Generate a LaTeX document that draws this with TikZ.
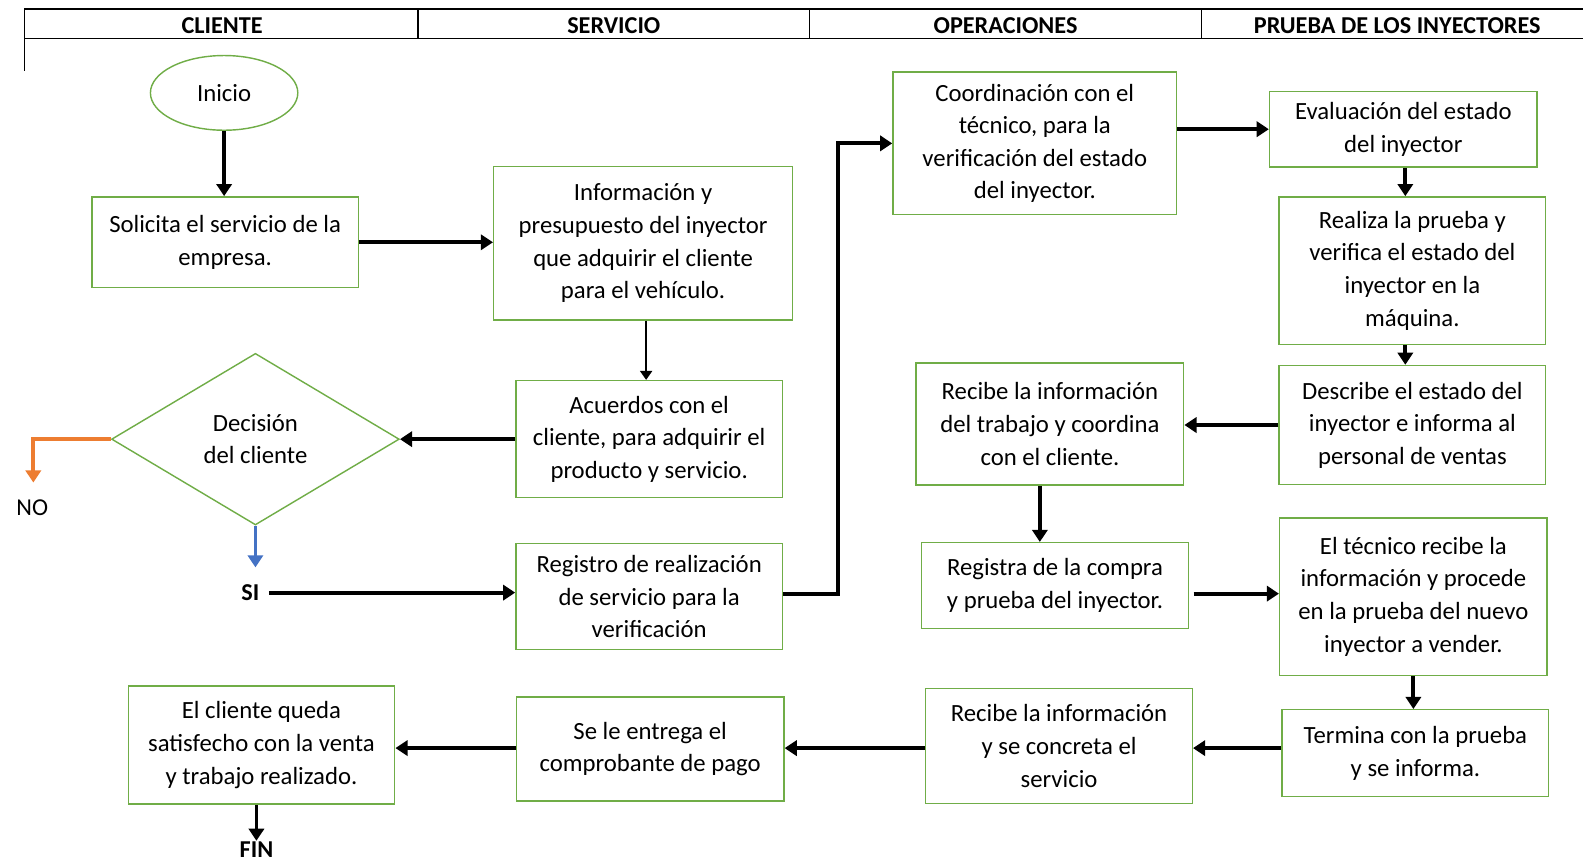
\documentclass[tikz,border=0pt]{standalone}
\usepackage{fontspec}
\setmainfont{Carlito}
\usetikzlibrary{arrows.meta,shapes.geometric}
\definecolor{verde}{RGB}{112,173,71}
\definecolor{naranja}{RGB}{237,125,49}
\definecolor{azul}{RGB}{68,114,196}

\tikzset{every picture/.style={line width=0.75pt}}
\tikzset{
  caja/.style={draw=verde, line width=1.4pt, fill=white, align=center, inner sep=2pt, font=\fontsize{24.5}{32.3}\selectfont},
  flecha/.style={line width=3.8pt, -{Triangle[length=12pt,width=15pt]}},
  flechafina/.style={line width=2pt, -{Triangle[length=9pt,width=12pt]}},
  encabezado/.style={inner sep=1pt, font=\fontsize{24}{26}\selectfont\bfseries},
  etiqueta/.style={inner sep=1pt, font=\fontsize{24}{26}\selectfont},
}

\begin{document}
\begin{tikzpicture}[x=1pt,y=1pt,yscale=-1,xscale=1]
\useasboundingbox (0,0) rectangle (1568,854);

%Table header
\draw [line width=1.2pt] (24,9) -- (1568,9) ;
\draw [line width=1.2pt] (24,38) -- (1568,38) ;
\draw [line width=1.2pt] (24,9) -- (24,70) ;
\draw [line width=1.2pt] (414,9) -- (414,38) ;
\draw [line width=1.2pt] (802,9) -- (802,38) ;
\draw [line width=1.2pt] (1190,9) -- (1190,38) ;
% Text Node
\node [encabezado] (hcli) at (220,25) {CLIENTE};
\node [encabezado] (hser) at (608,25) {SERVICIO};
\node [encabezado] (hope) at (996,25) {OPERACIONES};
\node [encabezado] (hpru) at (1384,25) {PRUEBA DE LOS INYECTORES};

%Shape: Ellipse
\node [caja, ellipse, minimum width=146pt, minimum height=74pt] (inicio) at (222,92) {Inicio};
%Shape: Rectangle
\node [caja, minimum width=264pt, minimum height=90pt] (solicita) at (223,240) {Solicita el servicio de la\\empresa.};
%Shape: Rectangle
\node [caja, minimum width=296pt, minimum height=152pt] (info) at (637,241) {Información y\\presupuesto del inyector\\que adquirir el cliente\\para el vehículo.};
%Shape: Rectangle
\node [caja, minimum width=264pt, minimum height=116pt] (acuerdos) at (643,435) {Acuerdos con el\\cliente, para adquirir el\\producto y servicio.};
%Shape: Diamond
\node [caja, diamond, aspect=1.68, inner sep=0pt, minimum width=285pt, minimum height=170pt] (decision) at (253,435) {Decisión\\del cliente};
%Shape: Rectangle
\node [caja, minimum width=264pt, minimum height=105pt] (registro) at (643,591) {Registro de realización\\de servicio para la\\verificación};
%Shape: Rectangle
\node [caja, minimum width=281pt, minimum height=141pt] (coord) at (1025,142) {Coordinación con el\\técnico, para la\\verificación del estado\\del inyector.};
%Shape: Rectangle
\node [caja, minimum width=265pt, minimum height=75pt] (evalua) at (1390,128) {Evaluación del estado\\del inyector};
%Shape: Rectangle
\node [caja, minimum width=264pt, minimum height=146pt] (realiza) at (1399,268) {Realiza la prueba y\\verifica el estado del\\inyector en la\\máquina.};
%Shape: Rectangle
\node [caja, minimum width=264pt, minimum height=118pt] (describe) at (1399,421) {Describe el estado del\\inyector e informa al\\personal de ventas};
%Shape: Rectangle
\node [caja, minimum width=265pt, minimum height=121pt] (recibeA) at (1040,420) {Recibe la información\\del trabajo y coordina\\con el cliente.};
%Shape: Rectangle
\node [caja, minimum width=265pt, minimum height=85pt] (registra) at (1045,580) {Registra de la compra\\y prueba del inyector.};
%Shape: Rectangle
\node [caja, minimum width=265pt, minimum height=156pt] (tecnico) at (1400,591) {El técnico recibe la\\información y procede\\en la prueba del nuevo\\inyector a vender.};
%Shape: Rectangle
\node [caja, minimum width=264pt, minimum height=86pt] (termina) at (1402,746) {Termina con la prueba\\y se informa.};
%Shape: Rectangle
\node [caja, minimum width=264pt, minimum height=114pt] (recibeB) at (1049,739) {Recibe la información\\y se concreta el\\servicio};
%Shape: Rectangle
\node [caja, minimum width=265pt, minimum height=103pt] (entrega) at (644,742) {Se le entrega el\\comprobante de pago};
%Shape: Rectangle
\node [caja, minimum width=264pt, minimum height=117pt] (satisf) at (259,738) {El cliente queda\\satisfecho con la venta\\y trabajo realizado.};

% Text Node
\node [etiqueta] (no) at (32,503) {NO};
\node [etiqueta, font=\fontsize{24}{26}\selectfont\bfseries] (si) at (248,587) {SI};
\node [etiqueta, font=\fontsize{24}{26}\selectfont\bfseries] (fin) at (254,842) {FIN};
\coordinate (noarr) at (33,478);
\coordinate (siarr) at (253,562);
\coordinate (codo) at (830,588);

%Connectors
\draw [flecha] (inicio.south) -- (inicio.south |- solicita.north) ;
\draw [flecha] (solicita.east) -- (solicita.east -| info.west) ;
\draw [flechafina] (info.south -| 640,0) -- (acuerdos.north -| 640,0) ;
\draw [flecha] (acuerdos.west) -- (decision.east) ;
\draw [flecha, naranja] (decision.west) -| (noarr) ;
\draw [flecha, azul] (decision.south) -- (siarr) ;
\draw [flecha] ([xshift=8pt]si.east) -- (si.east -| registro.west) ;
\draw [flecha] (registro.east |- codo) -- (codo) |- (coord.west) ;
\draw [flecha] (coord.east |- evalua.west) -- (evalua.west) ;
\draw [flecha] (evalua.south -| 1392,0) -- (realiza.north -| 1392,0) ;
\draw [flecha] (realiza.south -| 1392,0) -- (describe.north -| 1392,0) ;
\draw [flecha] (describe.west) -- (describe.west -| recibeA.east) ;
\draw [flecha] ([xshift=-10pt]recibeA.south) -- ([xshift=-10pt]recibeA.south |- registra.north) ;
\draw [flecha] ([xshift=4pt]registra.east |- 0,588) -- (tecnico.west |- 0,588) ;
\draw [flecha] (tecnico.south) -- (tecnico.south |- termina.north) ;
\draw [flecha] (termina.west |- 0,741) -- (recibeB.east |- 0,741) ;
\draw [flecha] (recibeB.west |- 0,741) -- (entrega.east |- 0,741) ;
\draw [flecha] (entrega.west |- 0,741) -- (satisf.east |- 0,741) ;
\draw [flecha] (satisf.south -| fin) -- (fin.north) ;

\end{tikzpicture}
\end{document}
